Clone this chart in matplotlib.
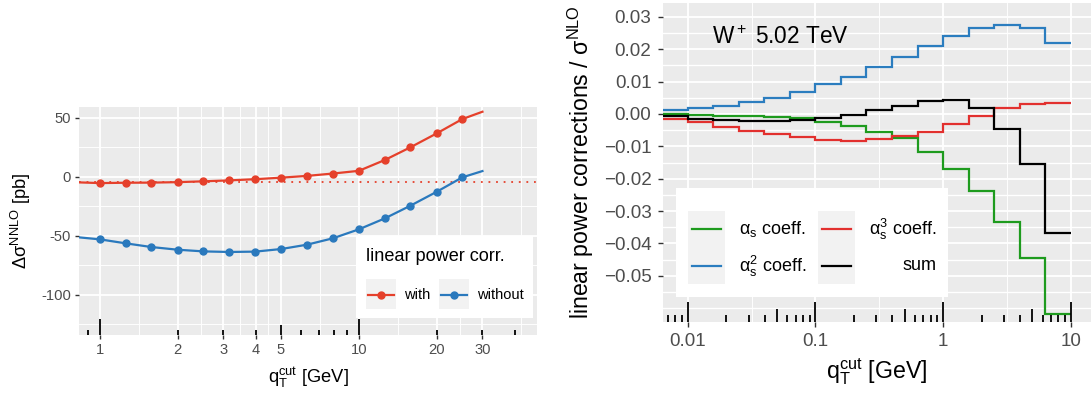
import numpy as np
import matplotlib
matplotlib.use("Agg")
import matplotlib.pyplot as plt
from matplotlib.patches import Rectangle

plt.rcParams["font.family"] = ["Liberation Sans", "DejaVu Sans"]
plt.rcParams["mathtext.fontset"] = "custom"
plt.rcParams["mathtext.rm"] = "Liberation Sans"
plt.rcParams["mathtext.it"] = "Liberation Sans"

# ── left panel data: Δσ^NNLO vs qT cut ───────────────────────────────────────
qt_pts = [1.0, 1.26, 1.58, 2.0, 2.51, 3.16, 3.98, 5.01, 6.31, 7.94,
          10.0, 12.6, 15.8, 20.0, 25.1]
with_pts = [-5.4, -5.1, -5.0, -4.6, -3.9, -3.1, -2.1, -0.8, 0.7, 2.7,
            5.0, 14.2, 24.9, 36.8, 48.9]
without_pts = [-53.1, -56.5, -59.6, -61.9, -63.3, -63.8, -63.5, -61.3, -57.6,
               -52.2, -44.6, -35.3, -24.6, -12.7, -0.5]
# curve ends (outside the sampled points)
qt_ends = [0.83, 30.0]
with_ends = [-4.8, 55.1]
without_ends = [-51.4, 4.8]
ref_level = -4.5

# ── right panel data: linear power corrections / σ^NLO ──────────────────────
bin_edges = [0.00631, 0.01, 0.0158, 0.0251, 0.0398, 0.0631, 0.1, 0.158, 0.251,
             0.398, 0.631, 1.0, 1.58, 2.51, 3.98, 6.31, 10.0]
as1 = [-0.0001, -0.0003, -0.0005, -0.0007, -0.0010, -0.0013, -0.0025, -0.0036,
       -0.0056, -0.0075, -0.0117, -0.0169, -0.0238, -0.0335, -0.0444, -0.0619]
as2 = [0.0013, 0.0019, 0.0026, 0.0037, 0.0049, 0.0067, 0.0092, 0.0115,
       0.0146, 0.0176, 0.0211, 0.0242, 0.0265, 0.0274, 0.0265, 0.0220]
as3 = [-0.0016, -0.0026, -0.0039, -0.0052, -0.0062, -0.0072, -0.0080, -0.0082,
       -0.0078, -0.0069, -0.0055, -0.0031, -0.0006, 0.0018, 0.0030, 0.0033]
total = [-0.0006, -0.0014, -0.0018, -0.0022, -0.0022, -0.0020, -0.0013, -0.0003,
         0.0011, 0.0026, 0.0041, 0.0042, 0.0019, -0.0046, -0.0155, -0.0369]

RED_L, BLUE_L = "#E5402B", "#2A79BD"
GREEN, BLUE, RED = "#1E9B1E", "#2B7DBF", "#E2302E"
BG, TXT = "#EBEBEB", "#4D4D4D"


def gg_panel(ax, tick_size, tick_len, pad):
    ax.set_facecolor(BG)
    for s in ax.spines.values():
        s.set_visible(False)
    ax.grid(which="major", color="white", lw=1.3)
    ax.grid(which="minor", color="white", lw=0.65)
    ax.set_axisbelow(True)
    ax.tick_params(which="major", length=tick_len, width=1.0, color="#333333",
                   labelsize=tick_size, labelcolor=TXT, pad=pad)
    ax.tick_params(which="minor", length=0)


def log_ticks(ax, lo, hi, long_px, height_px):
    # annotation_logticks-style marks along the bottom
    tr = ax.get_xaxis_transform()
    for dec in range(int(np.floor(np.log10(lo))), int(np.ceil(np.log10(hi))) + 1):
        for d in range(1, 10):
            x = d * 10.0 ** dec
            if not (lo <= x <= hi):
                continue
            ln = long_px if d == 1 else (long_px * 2 / 3 if d == 5 else long_px / 3)
            ax.plot([x, x], [0, ln / height_px], transform=tr, color="black",
                    lw=1.3, solid_capstyle="butt", clip_on=False, zorder=5)


fig = plt.figure(figsize=(10.92, 3.94), dpi=100)

# ── left ─────────────────────────────────────────────────────────────────────
ax1 = fig.add_axes([0.0723, 0.1497, 0.4194, 0.5787])
ax1.set_xscale("log")
ax1.set_xlim(0.83, 48.7)
ax1.set_ylim(-134.2, 59.1)
ax1.set_xticks([1, 2, 3, 4, 5, 10, 20, 30])
ax1.set_xticklabels(["1", "2", "3", "4", "5", "10", "20", "30"])
ax1.set_xticks([1.41, 2.45, 3.46, 4.47, 7.07, 14.1, 24.5, 42.4], minor=True)
ax1.set_xticklabels([], minor=True)
ax1.set_yticks([50, 0, -50, -100])
ax1.set_yticklabels(["50", "0", "-50", "-100"])
ax1.set_yticks([25, -25, -75, -125], minor=True)
gg_panel(ax1, 10.6, 2.8, 3)

ax1.axhline(ref_level, color=RED_L, lw=1.3, ls=(0, (1, 3.2)), zorder=2)
for ys, ye, col in [(with_pts, with_ends, RED_L), (without_pts, without_ends, BLUE_L)]:
    xs = [qt_ends[0]] + qt_pts + [qt_ends[1]]
    yy = [ye[0]] + ys + [ye[1]]
    ax1.plot(xs, yy, color=col, lw=1.6, zorder=3)
    ax1.plot(qt_pts, ys, "o", color=col, ms=5, zorder=4)
log_ticks(ax1, 0.83, 48.7, 15.6, 228)

fig.text(0.019, 0.439, "Δσ$^\\mathrm{NNLO}$ [pb]", rotation=90, ha="center",
         va="center", fontsize=13.2)
fig.text(0.282, 0.042, "q$_\\mathrm{T}^\\mathrm{cut}$ [GeV]", ha="center",
         va="center", fontsize=13.2)

# legend (ggplot style, drawn by hand)
t1 = ax1.transAxes
ax1.add_patch(Rectangle((0.6048, 0.0759), 0.3865, 0.3583, transform=t1,
                        facecolor="white", edgecolor="none", zorder=6))
ax1.text(0.6266, 0.3434, "linear power corr.", transform=t1, fontsize=13.1,
         va="center", ha="left", zorder=7)
for x0, col, lab, xt in [(0.6266, RED_L, "with", 0.7096),
                         (0.786, BLUE_L, "without", 0.869)]:
    ax1.add_patch(Rectangle((x0, 0.114), 0.0655, 0.1303, transform=t1,
                            facecolor="#F2F2F2", edgecolor="none", zorder=7))
    ax1.plot([x0 + 0.004, x0 + 0.0615], [0.1754, 0.1754], transform=t1,
             color=col, lw=1.6, zorder=8, clip_on=False)
    ax1.plot([x0 + 0.03275], [0.1754], "o", transform=t1, color=col, ms=5,
             zorder=8, clip_on=False)
    ax1.text(xt, 0.1754, lab, transform=t1, fontsize=10.5, va="center",
             ha="left", zorder=8)

# ── right ────────────────────────────────────────────────────────────────────
ax2 = fig.add_axes([0.6069, 0.1835, 0.3919, 0.8089])
ax2.set_xscale("log")
ax2.set_xlim(0.00637, 14.3)
ax2.set_ylim(-0.0642, 0.0343)
ax2.set_xticks([0.01, 0.1, 1, 10])
ax2.set_xticklabels(["0.01", "0.1", "1", "10"])
ax2.set_xticks([0.0316, 0.316, 3.16], minor=True)
ax2.set_xticklabels([], minor=True)
yt = [0.03, 0.02, 0.01, 0.0, -0.01, -0.02, -0.03, -0.04, -0.05]
ax2.set_yticks(yt)
ax2.set_yticklabels(["0.03", "0.02", "0.01", "0.00", "\u22120.01", "\u22120.02",
                     "\u22120.03", "\u22120.04", "\u22120.05"])
ax2.set_yticks([0.025, 0.015, 0.005, -0.005, -0.015, -0.025, -0.035, -0.045,
                -0.055, -0.06], minor=True)
gg_panel(ax2, 13.6, 3.6, 4.5)
ax2.grid(which="minor", axis="y", color="white", lw=1.0)

for vals, col in [(as1, GREEN), (as2, BLUE), (as3, RED), (total, "black")]:
    ax2.stairs(vals, bin_edges, color=col, lw=1.6, baseline=None, zorder=3)
log_ticks(ax2, 0.00637, 14.3, 19.5, 318.7)

ax2.text(0.1145, 0.893, "W$^+$ 5.02 TeV", transform=ax2.transAxes,
         fontsize=16.3, va="center", ha="left")
fig.text(0.532, 0.588, "linear power corrections / σ$^\\mathrm{NLO}$",
         rotation=90, ha="center", va="center", fontsize=16.7)
fig.text(0.803, 0.056, "q$_\\mathrm{T}^\\mathrm{cut}$ [GeV]", ha="center",
         va="center", fontsize=16.7)

t2 = ax2.transAxes
ax2.add_patch(Rectangle((0.0311, 0.0784), 0.6355, 0.3402, transform=t2,
                        facecolor="white", edgecolor="none", zorder=6))
rows = [0.2899, 0.1748]
legend_items = [
    (0.0584, GREEN, "α$_\\mathrm{s}$ coeff.", 0.3348, rows[0]),
    (0.0584, BLUE, "α$_\\mathrm{s}^2$ coeff.", 0.3348, rows[1]),
    (0.3629, RED, "α$_\\mathrm{s}^3$ coeff.", 0.6402, rows[0]),
    (0.3629, "black", "sum", 0.6402, rows[1]),
]
for x0, col, lab, xr, yc in legend_items:
    ax2.add_patch(Rectangle((x0, yc - 0.0576), 0.0864, 0.1152, transform=t2,
                            facecolor="#F2F2F2", edgecolor="none", zorder=7))
    ax2.plot([x0 + 0.0094, x0 + 0.077], [yc, yc], transform=t2, color=col,
             lw=1.6, zorder=8, clip_on=False)
    ax2.text(xr, yc, lab, transform=t2, fontsize=13, va="center", ha="right",
             zorder=8)

fig.savefig("out.png", dpi=100)
